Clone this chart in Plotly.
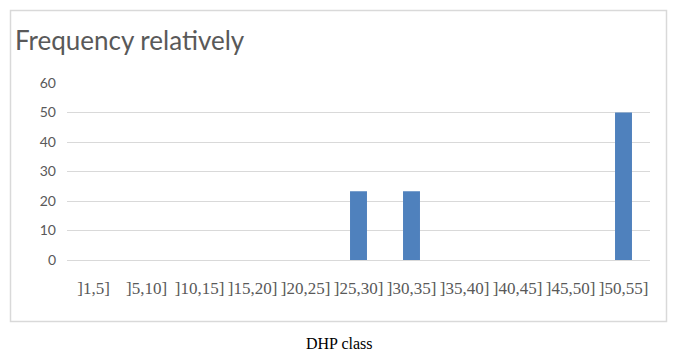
import plotly.graph_objects as go

categories = ["]1,5]", "]5,10]", "]10,15]", "]15,20]", "]20,25]", "]25,30]",
              "]30,35]", "]35,40]", "]40,45]", "]45,50]", "]50,55]"]
frequency = [0, 0, 0, 0, 0, 23.3, 23.3, 0, 0, 0, 50]
y_ticks = [0, 10, 20, 30, 40, 50, 60]

W, H = 682, 356
L, R, T, B = 67, 32, 83, 96
pw, ph = W - L - R, H - T - B

def px2paper_x(px):
    return (px - L) / pw

def px2paper_y(py):
    return (H - B - py) / ph

fig = go.Figure(go.Bar(x=categories, y=frequency, marker_color="#4f81bd",
                       marker_line_width=0))

fig.update_layout(
    width=W, height=H,
    margin=dict(l=L, r=R, t=T, b=B),
    paper_bgcolor="white", plot_bgcolor="white",
    bargap=0.68,
    showlegend=False,
    xaxis=dict(showgrid=False, showline=False, zeroline=False, ticks="",
               tickangle=0,
               tickfont=dict(family="Liberation Serif", size=17, color="#595959"),
               ticklabelstandoff=16, fixedrange=True),
    yaxis=dict(range=[0, 60], tickvals=y_ticks, showgrid=True, gridcolor="#d9d9d9",
               gridwidth=1, zeroline=True, zerolinecolor="#d9d9d9", zerolinewidth=1,
               showline=False, ticks="",
               tickfont=dict(family="Lato", size=14, color="#595959"),
               ticklabelstandoff=10, fixedrange=True),
    shapes=[dict(type="rect", xref="paper", yref="paper",
                 x0=px2paper_x(10.5), x1=px2paper_x(666.5),
                 y0=px2paper_y(321.5), y1=px2paper_y(10.5),
                 line=dict(color="#d9d9d9", width=1.5), fillcolor="rgba(0,0,0,0)",
                 layer="below")],
    annotations=[
        dict(text="Frequency relatively", xref="paper", yref="paper",
             x=px2paper_x(13), y=px2paper_y(22), xanchor="left", yanchor="top",
             showarrow=False, font=dict(family="Lato", size=26, color="#595959")),
        dict(text="DHP class", xref="paper", yref="paper",
             x=px2paper_x(339), y=px2paper_y(343), xanchor="center", yanchor="middle",
             showarrow=False, font=dict(family="Liberation Serif", size=16, color="black")),
    ],
)

fig.write_html("out.html", config={"displayModeBar": False},
               post_script="document.body.style.margin='0';document.body.style.padding='0';")
